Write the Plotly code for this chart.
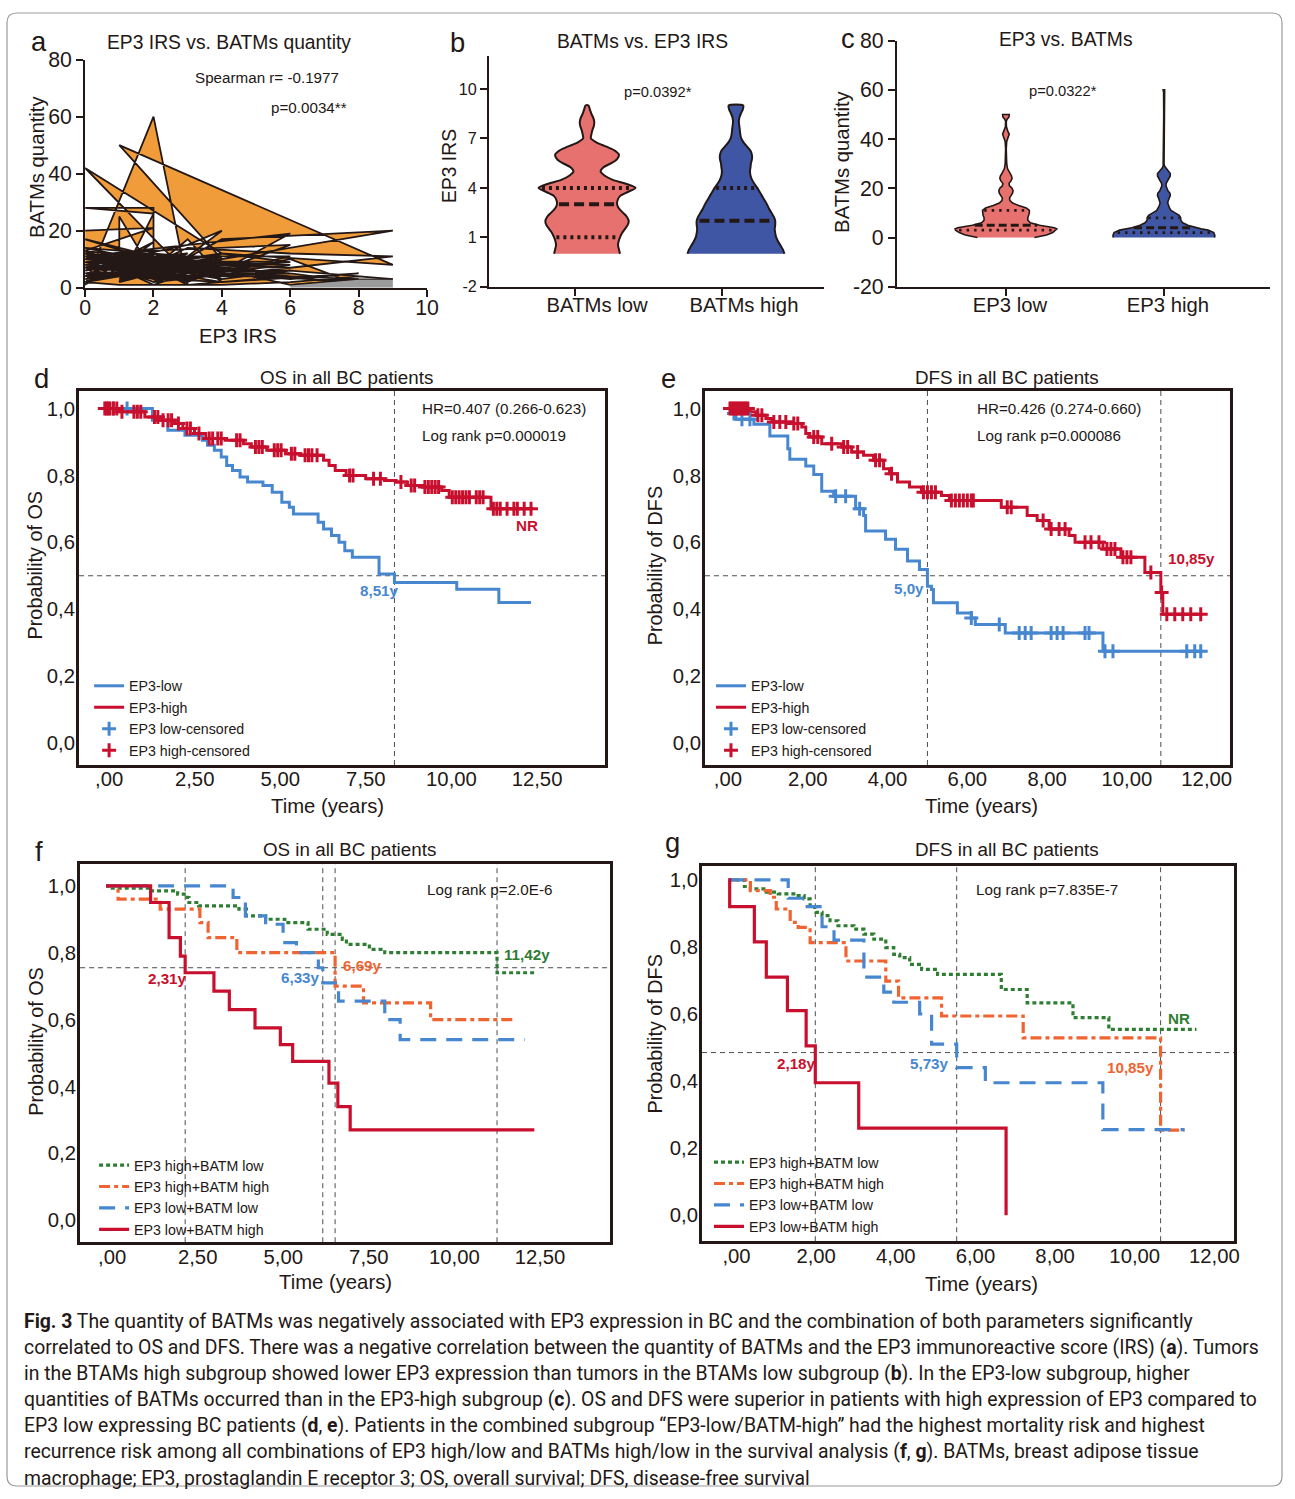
import numpy as np
import plotly.graph_objects as go

W, H = 1295, 1499
INK = "#231815"
FONT = "Liberation Sans, Arial, sans-serif"
CAP_FONT = "Roboto, Liberation Sans, sans-serif"
ORANGE = "#F09C3A"
PINK = "#E6716E"
NAVY = "#3E56A3"
KBLUE = "#4787CF"
KRED = "#C8102E"
KGREEN = "#2E7D32"
KORANGE = "#F06432"

# ---------------- panel a data (EP3 IRS vs BATMs, in plotted order) ----------------
a_irs = [0, 2, 0, 1, 0, 2, 0, 1, 0, 3, 0, 4, 1, 2, 0, 3, 1, 2, 0, 2,
         2, 1, 1, 3, 0, 2, 4, 1, 0, 2, 3, 2, 3, 4, 6, 2, 0, 4, 1, 9,
         4, 6, 3, 0, 2, 4, 3, 0, 4, 2, 4, 9, 4, 3, 6, 2, 0, 6, 4, 1,
         3, 6, 9, 6, 2, 4, 3, 1, 3, 0, 4, 6, 8, 4, 2, 0, 3, 6, 8, 4,
         1, 3, 2, 6, 9, 8, 6, 4, 1, 0, 2, 0, 3, 1, 4, 2, 0, 3, 1, 2,
         3, 0, 4, 1, 6, 2, 0, 3, 1, 4, 2, 0, 6, 3, 1, 4, 0, 2, 6, 3,
         1, 4, 2, 0, 3, 6, 8, 4, 1, 2, 0, 4, 3, 1, 6, 2, 0, 3, 4, 1,
         2, 0, 6, 4, 3, 1, 8, 6, 2, 0, 3, 4, 1, 2, 0, 6, 4, 3, 1, 0]
a_batm = [20, 21, 13, 4, 2, 9, 6, 12, 10, 5, 42, 12, 7, 16, 4, 9, 2, 26, 28, 28,
          5, 25, 6, 12, 8, 12, 3, 9, 1, 60, 1, 7, 17, 4, 5, 9, 14, 10, 50, 8,
          12, 9, 6, 17, 11, 3, 10, 3, 8, 4, 17, 20, 10, 2, 15, 13, 11, 19, 6, 3,
          14, 12, 11, 7, 2, 20, 15, 10, 7, 9, 5, 3, 5, 2, 6, 5, 3, 10, 1, 7,
          8, 11, 3, 6, 3, 4, 2, 1, 1, 2, 8, 7, 4, 5, 9, 1, 12, 8, 11, 10,
          6, 12, 4, 10, 8, 3, 9, 12, 2, 11, 7, 4, 4, 1, 13, 6, 8, 11, 11, 3,
          6, 9, 2, 11, 9, 1, 3, 5, 12, 6, 3, 12, 5, 9, 7, 10, 6, 11, 2, 4,
          12, 10, 9, 8, 2, 7, 2, 5, 4, 13, 8, 10, 3, 9, 5, 6, 3, 10, 11, 7]
a_gray_irs = [6, 8, 9]
a_gray_batm = [1, 3, 3]
a_xticks = [0, 2, 4, 6, 8, 10]
a_yticks = [0, 20, 40, 60, 80]

# ---------------- panel b data (violin density profiles) ----------------
b_categories = ["BATMs low", "BATMs high"]
b_levels = [0, 0.25, 0.5, 0.75, 1, 1.25, 1.5, 1.75, 2, 2.25, 2.5, 2.75, 3, 3.25, 3.5, 3.75,
            4, 4.25, 4.5, 4.75, 5, 5.25, 5.5, 5.75, 6, 6.25, 6.5, 6.75, 7, 7.25, 7.5, 7.75,
            8, 8.25, 8.5, 8.75, 9]
b_low_width = [0.68, 0.66, 0.64, 0.65, 0.68, 0.72, 0.78, 0.84, 0.86, 0.82, 0.74, 0.66, 0.62,
               0.63, 0.68, 0.84, 1.0, 0.80, 0.52, 0.36, 0.28, 0.34, 0.50, 0.62, 0.66, 0.58,
               0.40, 0.20, 0.08, 0.09, 0.11, 0.14, 0.15, 0.13, 0.09, 0.06, 0.03]
b_high_width = [1.0, 0.97, 0.92, 0.87, 0.83, 0.81, 0.80, 0.81, 0.81, 0.78, 0.73, 0.68, 0.64,
                0.59, 0.54, 0.49, 0.44, 0.38, 0.33, 0.30, 0.29, 0.30, 0.31, 0.33, 0.33, 0.30,
                0.23, 0.16, 0.11, 0.09, 0.08, 0.07, 0.06, 0.07, 0.10, 0.14, 0.15]
b_low_quart = [1, 3, 4]
b_high_quart = [0, 2, 4]
b_yticks = [-2, 1, 4, 7, 10]
b_yticktext = ["-2", "1", "4", "7", "10"]

# ---------------- panel c data ----------------
c_categories = ["EP3 low", "EP3 high"]
c_low_levels = [0, 1, 2, 3, 3.5, 4, 5, 6, 7, 8, 9, 10, 11, 12, 13, 14, 15, 16, 17, 18, 19, 20,
                21, 22, 23, 24, 25, 26, 27, 28, 30, 33, 36, 39, 41, 42, 43, 45, 47, 48, 49, 50]
c_low_width = [0.56, 0.80, 0.92, 0.99, 1.0, 0.95, 0.66, 0.48, 0.43, 0.43, 0.45, 0.46, 0.46,
               0.40, 0.25, 0.13, 0.08, 0.07, 0.10, 0.13, 0.14, 0.12, 0.07, 0.06, 0.10, 0.12,
               0.11, 0.08, 0.05, 0.03, 0.015, 0.006, 0.006, 0.015, 0.05, 0.065, 0.04, 0.01,
               0.006, 0.02, 0.06, 0.065]
c_high_levels = [0, 1, 2, 3, 3.5, 4, 5, 6, 7, 8, 9, 10, 11, 12, 13, 14, 15, 16, 17, 18, 19, 20,
                 21, 22, 23, 24, 25, 26, 27, 28, 29, 30, 40, 50, 59, 60]
c_high_width = [1.0, 1.0, 0.98, 0.87, 0.73, 0.63, 0.47, 0.37, 0.33, 0.33, 0.30, 0.22, 0.14,
                0.11, 0.09, 0.075, 0.085, 0.105, 0.125, 0.12, 0.08, 0.06, 0.04, 0.045, 0.075,
                0.105, 0.125, 0.125, 0.085, 0.04, 0.015, 0.003, 0.003, 0.003, 0.006, 0.015]
c_low_quart = [3, 5, 11]
c_high_quart = [2, 4, 8]
c_yticks = [-20, 0, 20, 40, 60, 80]
c_yticktext = ["-20", "0", "20", "40", "60", "80"]

# ---------------- Kaplan-Meier data ----------------
os_ticks = [0, 2.5, 5, 7.5, 10, 12.5]
os_ticktext = [",00", "2,50", "5,00", "7,50", "10,00", "12,50"]
dfs_ticks = [0, 2, 4, 6, 8, 10, 12]
dfs_ticktext = [",00", "2,00", "4,00", "6,00", "8,00", "10,00", "12,00"]
surv_ticks = [0, 0.2, 0.4, 0.6, 0.8, 1.0]
surv_ticktext = ["0,0", "0,2", "0,4", "0,6", "0,8", "1,0"]

# d: OS, EP3 low / high
d_low_t = [1.44, 1.89, 2.39, 2.9, 3.05, 3.25, 3.45, 3.61, 3.78, 4.0, 4.22, 4.67, 4.94, 5.22,
           5.44, 5.56, 6.28, 6.44, 6.67, 6.89, 7.06, 7.28, 8.06, 8.51, 10.33, 11.56]
d_low_s = [0.965, 0.935, 0.92, 0.905, 0.89, 0.875, 0.855, 0.83, 0.815, 0.795, 0.78, 0.77, 0.75,
           0.72, 0.705, 0.685, 0.66, 0.64, 0.62, 0.60, 0.575, 0.555, 0.505, 0.48, 0.46, 0.42]
d_low_end = 12.5
d_low_cens = [0.3, 0.7]
d_high_t = [0.45, 1.22, 1.67, 2.1, 2.33, 2.67, 3.0, 3.56, 4.1, 4.33, 4.78, 5.33, 5.78, 6.44,
            6.6, 6.78, 7.1, 7.67, 8.22, 8.56, 8.89, 9.33, 9.89, 10.11, 11.33]
d_high_s = [0.99, 0.975, 0.965, 0.955, 0.94, 0.925, 0.91, 0.905, 0.895, 0.885, 0.875, 0.865,
            0.86, 0.845, 0.83, 0.815, 0.80, 0.79, 0.785, 0.78, 0.77, 0.765, 0.755, 0.735, 0.70]
d_high_end = 12.56
d_high_cens = [0.05, 0.1, 0.15, 0.2, 0.3, 0.4, 0.55, 0.9, 1.0, 1.1, 1.5, 1.6, 1.75, 1.9, 2.0,
               2.2, 2.45, 2.55, 2.8, 3.1, 3.2, 3.35, 3.45, 3.9, 4.0, 4.45, 4.55, 4.65, 5.0,
               5.1, 5.2, 5.5, 5.6, 5.9, 6.0, 6.1, 6.25, 7.2, 7.3, 7.9, 8.1, 8.7, 9.0, 9.1,
               9.4, 9.5, 9.6, 9.7, 9.8, 10.2, 10.3, 10.4, 10.5, 10.6, 10.7, 10.9, 11.0, 11.1,
               11.4, 11.5, 11.6, 11.8, 12.0, 12.1, 12.3, 12.5]
d_vlines = [8.51]
d_hline = 0.5

# e: DFS, EP3 low / high
e_low_t = [0.1, 0.2, 0.65, 1.05, 1.5, 1.55, 1.95, 2.15, 2.35, 2.65, 3.2, 3.4, 3.45, 3.95, 4.2,
           4.5, 4.8, 5.0, 5.1, 5.15, 5.75, 6.1, 6.2, 6.95, 9.4]
e_low_s = [0.985, 0.968, 0.953, 0.918, 0.88, 0.848, 0.828, 0.803, 0.753, 0.738, 0.70, 0.68,
           0.634, 0.609, 0.579, 0.544, 0.519, 0.469, 0.459, 0.419, 0.389, 0.374, 0.354, 0.329,
           0.274]
e_low_end = 11.9
e_low_cens = [0.15, 0.35, 0.55, 2.7, 2.95, 3.3, 6.1, 6.8, 7.3, 7.45, 7.6, 8.1, 8.25, 8.4, 8.95,
              9.05, 9.45, 9.65, 11.5, 11.7, 11.85]
e_high_t = [0.55, 0.7, 0.95, 1.1, 1.6, 1.85, 1.95, 2.05, 2.35, 2.85, 3.1, 3.4, 3.65, 3.9, 4.05,
            4.25, 4.55, 4.85, 5.35, 5.55, 6.85, 7.5, 7.75, 8.05, 8.55, 8.7, 9.4, 9.85, 10.45,
            10.85, 10.9]
e_high_s = [0.99, 0.98, 0.97, 0.96, 0.955, 0.945, 0.925, 0.915, 0.895, 0.885, 0.87, 0.86, 0.845,
            0.82, 0.805, 0.78, 0.765, 0.75, 0.74, 0.725, 0.705, 0.68, 0.665, 0.64, 0.62, 0.60,
            0.58, 0.555, 0.51, 0.45, 0.385]
e_high_end = 11.9
e_high_cens = [0.05, 0.1, 0.15, 0.2, 0.25, 0.3, 0.35, 0.4, 0.45, 0.5, 0.75, 0.85, 1.15, 1.3,
               1.45, 1.65, 1.75, 2.15, 2.25, 2.6, 2.9, 3.0, 3.25, 3.7, 3.8, 4.1, 4.9, 5.0, 5.1,
               5.2, 5.6, 5.7, 5.8, 5.9, 6.0, 6.1, 6.15, 7.0, 7.1, 7.9, 8.1, 8.3, 8.45, 8.95,
               9.1, 9.3, 9.5, 9.6, 9.7, 9.9, 10.0, 10.1, 10.6, 10.87, 11.0, 11.2, 11.4, 11.6,
               11.85]
e_vlines = [5.0, 10.85]
e_hline = 0.5

# f: OS by EP3/BATM combination
f_names = ["EP3 high+BATM low", "EP3 high+BATM high", "EP3 low+BATM low", "EP3 low+BATM high"]
f_t = [
    [0.05, 1.3, 2.09, 2.37, 2.42, 2.7, 3.88, 4.1, 4.66, 5.22, 5.9, 6.46, 6.9, 7.02, 7.69, 8.14, 11.42],
    [0.35, 1.58, 2.74, 2.98, 3.82, 6.69, 7.52, 9.48],
    [3.71, 4.07, 4.66, 5.17, 5.56, 6.2, 6.33, 6.79, 8.14, 8.59],
    [1.3, 1.84, 2.17, 2.31, 3.15, 3.6, 4.35, 5.09, 5.45, 6.51, 6.77, 7.13],
]
f_s = [
    [0.993, 0.985, 0.975, 0.965, 0.95, 0.94, 0.93, 0.91, 0.90, 0.89, 0.87, 0.855, 0.84, 0.825, 0.81, 0.80, 0.74],
    [0.96, 0.93, 0.89, 0.845, 0.80, 0.70, 0.65, 0.60],
    [0.965, 0.91, 0.885, 0.83, 0.80, 0.755, 0.71, 0.655, 0.60, 0.54],
    [0.95, 0.845, 0.79, 0.74, 0.685, 0.63, 0.575, 0.525, 0.475, 0.41, 0.34, 0.27],
]
f_end = [12.57, 11.95, 12.23, 12.51]
f_vlines = [2.31, 6.33, 6.69, 11.42]
f_hline = 0.755

# g: DFS by EP3/BATM combination
g_t = [
    [0.4, 0.55, 0.95, 1.25, 1.75, 1.9, 2.05, 2.2, 2.35, 2.55, 2.75, 3.15, 3.4, 3.65, 3.95, 4.15,
     4.3, 4.55, 4.85, 5.25, 6.85, 7.5, 8.65, 9.55],
    [0.55, 1.05, 1.2, 1.55, 1.75, 2.05, 2.95, 3.95, 4.27, 5.35, 7.4, 10.85],
    [1.5, 1.9, 2.35, 2.65, 3.4, 3.9, 4.15, 4.8, 5.1, 5.73, 6.45, 9.4],
    [0.03, 0.65, 0.95, 1.48, 1.95, 2.18, 3.27, 6.97],
]
g_s = [
    [0.98, 0.973, 0.963, 0.958, 0.953, 0.943, 0.918, 0.903, 0.893, 0.878, 0.863, 0.853, 0.838,
     0.823, 0.798, 0.778, 0.768, 0.748, 0.733, 0.718, 0.673, 0.633, 0.589, 0.554],
    [0.968, 0.948, 0.913, 0.873, 0.858, 0.813, 0.758, 0.698, 0.648, 0.594, 0.529, 0.254],
    [0.945, 0.92, 0.86, 0.82, 0.71, 0.665, 0.635, 0.60, 0.51, 0.44, 0.395, 0.255],
    [0.92, 0.815, 0.71, 0.61, 0.505, 0.395, 0.26, 0.0],
]
g_end = [11.75, 11.45, 11.45, 6.97]
g_vlines = [2.18, 5.73, 10.85]
g_hline = 0.485

combo_colors = [KGREEN, KORANGE, KBLUE, KRED]
combo_dash = ["4px,3px", "11px,4px,4px,4px", "16px,10px", "solid"]

# ---------------- layout helpers (target-pixel -> figure-pixel) ----------------
SX, SY = 1313 / 1295, 1521 / 1499
OX, OY = 9, 11
FS = 1.014

def X(r):
    return r * SX - OX

def Y(r):
    return r * SY - OY

def xd(p0, p1):
    return [X(p0) / W, X(p1) / W]

def yd(top, bottom):
    return [1 - Y(bottom) / H, 1 - Y(top) / H]

def PX(x):
    return X(x) / W

def PY(y):
    return 1 - Y(y) / H

def fs(s):
    return round(s * FS, 1)

annotations = []
shapes = []

def ann(text, x, y, size, color=INK, xanchor="center", yanchor="middle", angle=0, family=FONT):
    annotations.append(dict(text=text, x=PX(x), y=PY(y), xref="paper", yref="paper",
                            xanchor=xanchor, yanchor=yanchor, showarrow=False, textangle=angle,
                            font=dict(size=fs(size), color=color, family=family)))

def km_xy(t, s, end):
    return [0.0] + list(t) + [end], [1.0] + list(s) + [s[-1]]

def surv_at(t, s, ct):
    times = np.array([0.0] + list(t))
    surv = np.array([1.0] + list(s))
    idx = np.searchsorted(times, np.array(ct), side="right") - 1
    return surv[idx]

fig = go.Figure()

# ---------------- panel a ----------------
fig.add_trace(go.Scatter(x=a_irs, y=a_batm, mode="lines", fill="tozeroy", fillcolor=ORANGE,
                         line=dict(color=INK, width=1.8), xaxis="x", yaxis="y",
                         showlegend=False, hoverinfo="skip"))
fig.add_trace(go.Scatter(x=a_gray_irs, y=a_gray_batm, mode="lines", fill="tozeroy",
                         fillcolor="#9b9b9b", line=dict(color=INK, width=1.2), xaxis="x",
                         yaxis="y", showlegend=False, hoverinfo="skip"))

# ---------------- violins ----------------
def violin(center, levels, widths, hm, color, xa, ya, shape, lw):
    lv = np.array(levels, dtype=float)
    wv = np.array(widths, dtype=float) * hm
    xs = np.concatenate([center + wv, (center - wv)[::-1]])
    ys = np.concatenate([lv, lv[::-1]])
    fig.add_trace(go.Scatter(x=xs, y=ys, mode="lines", fill="toself", fillcolor=color,
                             line=dict(color=INK, width=lw, shape=shape, smoothing=0.8),
                             xaxis=xa, yaxis=ya, showlegend=False, hoverinfo="skip"))

def qlines(center, levels, widths, hm, qs, xa, ya, lw_dot, lw_dash, dotpat, dashpat):
    for i, q in enumerate(qs):
        if q <= levels[0]:
            continue  # coincides with the violin's flat base
        w = float(np.interp(q, levels, widths)) * hm * 0.93
        med = (i == 1)
        fig.add_trace(go.Scatter(x=[center - w, center + w], y=[q, q], mode="lines",
                                 line=dict(color=INK, width=lw_dash if med else lw_dot,
                                           dash=dashpat if med else dotpat),
                                 xaxis=xa, yaxis=ya, showlegend=False, hoverinfo="skip"))

b_hm = 0.3255
violin(0, b_levels, b_low_width, b_hm, PINK, "x2", "y2", "spline", 2)
violin(1, b_levels, b_high_width, b_hm, NAVY, "x2", "y2", "spline", 2)
qlines(0, b_levels, b_low_width, b_hm, b_low_quart, "x2", "y2", 4, 4, "3px,4px", "10px,5px")
qlines(1, b_levels, b_high_width, b_hm, b_high_quart, "x2", "y2", 4, 4, "3px,4px", "10px,5px")

c_hm = 0.322
violin(0, c_low_levels, c_low_width, c_hm, PINK, "x3", "y3", "linear", 1.6)
violin(1, c_high_levels, c_high_width, c_hm, NAVY, "x3", "y3", "linear", 1.6)
qlines(0, c_low_levels, c_low_width, c_hm, c_low_quart, "x3", "y3", 2.8, 3, "2.5px,5px", "8px,4px")
qlines(1, c_high_levels, c_high_width, c_hm, c_high_quart, "x3", "y3", 2.8, 3, "2.5px,5px", "8px,4px")

# ---------------- KM d / e ----------------
def two_group(xa, ya, leg, lt, ls, lend, lc, ht, hs, hend, hc):
    x, y = km_xy(lt, ls, lend)
    fig.add_trace(go.Scatter(x=x, y=y, mode="lines", line=dict(color=KBLUE, width=3, shape="hv"),
                             name="EP3-low", legend=leg, xaxis=xa, yaxis=ya, hoverinfo="skip"))
    x, y = km_xy(ht, hs, hend)
    fig.add_trace(go.Scatter(x=x, y=y, mode="lines", line=dict(color=KRED, width=3, shape="hv"),
                             name="EP3-high", legend=leg, xaxis=xa, yaxis=ya, hoverinfo="skip"))
    fig.add_trace(go.Scatter(x=lc, y=surv_at(lt, ls, lc), mode="markers",
                             marker=dict(symbol="cross-thin", size=10, color=KBLUE,
                                         line=dict(color=KBLUE, width=3)),
                             name="EP3 low-censored", legend=leg, xaxis=xa, yaxis=ya,
                             hoverinfo="skip"))
    fig.add_trace(go.Scatter(x=hc, y=surv_at(ht, hs, hc), mode="markers",
                             marker=dict(symbol="cross-thin", size=10, color=KRED,
                                         line=dict(color=KRED, width=3)),
                             name="EP3 high-censored", legend=leg, xaxis=xa, yaxis=ya,
                             hoverinfo="skip"))

two_group("x4", "y4", "legend", d_low_t, d_low_s, d_low_end, d_low_cens,
          d_high_t, d_high_s, d_high_end, d_high_cens)
two_group("x5", "y5", "legend2", e_low_t, e_low_s, e_low_end, e_low_cens,
          e_high_t, e_high_s, e_high_end, e_high_cens)

def four_group(xa, ya, leg, ts, ss, ends):
    for name, t, s, end, col, dash in zip(f_names, ts, ss, ends, combo_colors, combo_dash):
        x, y = km_xy(t, s, end)
        fig.add_trace(go.Scatter(x=x, y=y, mode="lines",
                                 line=dict(color=col, width=3.2, shape="hv", dash=dash),
                                 name=name, legend=leg, xaxis=xa, yaxis=ya, hoverinfo="skip"))

four_group("x6", "y6", "legend3", f_t, f_s, f_end)
four_group("x7", "y7", "legend4", g_t, g_s, g_end)

def ref_lines(n, vlines, hline):
    for v in vlines:
        shapes.append(dict(type="line", xref=f"x{n}", yref=f"y{n} domain", x0=v, x1=v, y0=0, y1=1,
                           line=dict(color="#4d4d4d", width=1, dash="5px,4px"), layer="below"))
    shapes.append(dict(type="line", xref=f"x{n} domain", yref=f"y{n}", x0=0, x1=1, y0=hline,
                       y1=hline, line=dict(color="#4d4d4d", width=1, dash="5px,4px"),
                       layer="below"))

ref_lines(4, d_vlines, d_hline)
ref_lines(5, e_vlines, e_hline)
ref_lines(6, f_vlines, f_hline)
ref_lines(7, g_vlines, g_hline)

# ---------------- axes ----------------
base_tick = dict(showgrid=False, zeroline=False, showline=True, linecolor=INK, color=INK)
tick_style = dict(linewidth=2, ticks="outside", ticklen=7, tickwidth=2, tickcolor=INK)

layout_axes = {}
layout_axes["xaxis"] = dict(base_tick, **tick_style, domain=xd(88, 430), range=[0, 10],
                            anchor="y", tickvals=a_xticks, tickfont=dict(size=fs(21)),
                            ticklabelstandoff=-7)
layout_axes["yaxis"] = dict(base_tick, **tick_style, domain=yd(58.5, 287), range=[0, 80],
                            anchor="x", tickvals=a_yticks, tickfont=dict(size=fs(21)))
layout_axes["xaxis2"] = dict(base_tick, **tick_style, domain=xd(492, 827),
                             range=[-0.658, 1.591], anchor="y2", tickvals=[-0.08, 0.906],
                             ticktext=b_categories, ticklabelshift=22, ticklabelstandoff=-8,
                             tickfont=dict(size=fs(20)))
layout_axes["yaxis2"] = dict(base_tick, **tick_style, domain=yd(55, 286), range=[-2, 12],
                             anchor="x2", tickvals=b_yticks, ticktext=b_yticktext,
                             tickfont=dict(size=fs(16)))
layout_axes["xaxis3"] = dict(base_tick, **tick_style, domain=xd(900, 1273),
                             range=[-0.69, 1.671], anchor="y3", tickvals=[0, 1],
                             ticktext=c_categories, ticklabelshift=4, ticklabelstandoff=-8,
                             tickfont=dict(size=fs(20)))
layout_axes["yaxis3"] = dict(base_tick, **tick_style, domain=yd(39.5, 286), range=[-20, 80],
                             anchor="x3", tickvals=c_yticks, ticktext=c_yticktext,
                             tickfont=dict(size=fs(21)))

def km_axes(n, xpx, ypx, xr, yr, tv, tt, shift):
    layout_axes[f"xaxis{n}"] = dict(base_tick, domain=xd(*xpx), range=xr, anchor=f"y{n}",
                                    mirror=True, linewidth=3, ticks="", tickvals=tv, ticktext=tt,
                                    ticklabelshift=shift, ticklabelstandoff=-6,
                                    tickfont=dict(size=fs(20)))
    layout_axes[f"yaxis{n}"] = dict(base_tick, domain=yd(*ypx), range=yr, anchor=f"x{n}",
                                    mirror=True, linewidth=3, ticks="", tickvals=surv_ticks,
                                    ticktext=surv_ticktext, ticklabelstandoff=-3,
                                    tickfont=dict(size=fs(20)))

km_axes(4, (82, 608), (390, 765), [-0.701, 14.661], [-0.0657, 1.0537], os_ticks, os_ticktext, 6)
km_axes(5, (708, 1233), (390, 765), [-0.576, 12.581], [-0.0657, 1.0537], dfs_ticks, dfs_ticktext, 0)
km_axes(6, (83, 613), (864, 1243), [-0.759, 14.72], [-0.0657, 1.0657], os_ticks, os_ticktext, 6)
km_axes(7, (705, 1237), (866, 1242), [-0.665, 12.69], [-0.0774, 1.0417], dfs_ticks, dfs_ticktext, 8)

# ---------------- text ----------------
for letter, x, y in [("a", 42, 40), ("b", 460, 41), ("c", 851, 37), ("d", 44, 378),
                     ("e", 672, 378), ("f", 42, 852), ("g", 676, 843)]:
    ann(letter, x, y, 27)

ann("EP3 IRS vs. BATMs quantity", 232, 41, 19)
ann("BATMs vs. EP3 IRS", 645, 40, 19)
ann("EP3 vs. BATMs", 1069, 38, 19)
ann("OS in all BC patients", 349, 377, 18.5)
ann("DFS in all BC patients", 1010, 377, 18.5)
ann("OS in all BC patients", 352, 850, 18.5)
ann("DFS in all BC patients", 1010, 850, 18.5)

ann("BATMs quantity", 40, 166, 20, angle=-90)
ann("EP3 IRS", 241, 335, 20)
ann("EP3 IRS", 453, 165, 19, angle=-90)
ann("BATMs quantity", 845, 160, 20, angle=-90)
ann("Probability of OS", 38, 565, 19.5, angle=-90)
ann("Probability of DFS", 658, 565, 19.5, angle=-90)
ann("Probability of OS", 38, 1042, 19.5, angle=-90)
ann("Probability of DFS", 658, 1034, 19.5, angle=-90)
ann("Time (years)", 330, 806, 20)
ann("Time (years)", 985, 806, 20)
ann("Time (years)", 338, 1283, 20)
ann("Time (years)", 985, 1285, 20)

ann("Spearman r= -0.1977", 270, 76, 15)
ann("p=0.0034**", 312, 106, 15)
ann("p=0.0392*", 661, 91, 14.5)
ann("p=0.0322*", 1066, 90, 14.5)
ann("HR=0.407 (0.266-0.623)", 507, 408, 15)
ann("Log rank p=0.000019", 497, 435, 15)
ann("<b>NR</b>", 530, 525, 15, KRED)
ann("<b>8,51y</b>", 382, 590, 15, KBLUE)
ann("HR=0.426 (0.274-0.660)", 1062, 408, 15)
ann("Log rank p=0.000086", 1052, 435, 15)
ann("<b>10,85y</b>", 1195, 558, 15, KRED)
ann("<b>5,0y</b>", 912, 588, 15, KBLUE)
ann("Log rank p=2.0E-6", 492, 890, 15)
ann("<b>2,31y</b>", 170, 979, 15, KRED)
ann("<b>6,33y</b>", 303, 978, 15, KBLUE)
ann("<b>6,69y</b>", 365, 966, 15, KORANGE)
ann("<b>11,42y</b>", 530, 955, 15, KGREEN)
ann("Log rank p=7.835E-7", 1050, 890, 15)
ann("<b>NR</b>", 1182, 1019, 15, KGREEN)
ann("<b>2,18y</b>", 800, 1064, 15, KRED)
ann("<b>5,73y</b>", 933, 1064, 15, KBLUE)
ann("<b>10,85y</b>", 1134, 1068, 15, KORANGE)

caption = [
    "<b>Fig. 3</b> The quantity of BATMs was negatively associated with EP3 expression in BC and the combination of both parameters significantly",
    "correlated to OS and DFS. There was a negative correlation between the quantity of BATMs and the EP3 immunoreactive score (IRS) (<b>a</b>). Tumors",
    "in the BTAMs high subgroup showed lower EP3 expression than tumors in the BTAMs low subgroup (<b>b</b>). In the EP3-low subgroup, higher",
    "quantities of BATMs occurred than in the EP3-high subgroup (<b>c</b>). OS and DFS were superior in patients with high expression of EP3 compared to",
    "EP3 low expressing BC patients (<b>d</b>, <b>e</b>). Patients in the combined subgroup \u201cEP3-low/BATM-high\u201d had the highest mortality risk and highest",
    "recurrence risk among all combinations of EP3 high/low and BATMs high/low in the survival analysis (<b>f</b>, <b>g</b>). BATMs, breast adipose tissue",
    "macrophage; EP3, prostaglandin E receptor 3; OS, overall survival; DFS, disease-free survival",
]
for i, line in enumerate(caption):
    ann(line, 25, 1322 + i * 26.2, 19.1, xanchor="left", family=CAP_FONT)

# rounded border (kept inside the figure)
x0, x1 = 1 / W, 1294 / W
y0, y1 = 1 / H, 1 - 1 / H
rx, ry = 10 / W, 10 / H
path = (f"M {x0+rx},{y1} L {x1-rx},{y1} Q {x1},{y1} {x1},{y1-ry} L {x1},{y0+ry} "
        f"Q {x1},{y0} {x1-rx},{y0} L {x0+rx},{y0} Q {x0},{y0} {x0},{y0+ry} "
        f"L {x0},{y1-ry} Q {x0},{y1} {x0+rx},{y1} Z")
shapes.append(dict(type="path", xref="paper", yref="paper", path=path,
                   line=dict(color="#9a9a9a", width=1.2)))

leg_common = dict(bgcolor="rgba(0,0,0,0)", font=dict(size=fs(14), family=FONT, color=INK),
                  xanchor="left", yanchor="middle", tracegroupgap=0, itemwidth=30,
                  traceorder="normal")

fig.update_layout(
    width=W, height=H, margin=dict(l=0, r=0, t=0, b=0),
    paper_bgcolor="white", plot_bgcolor="white",
    font=dict(family=FONT, color=INK),
    showlegend=True,
    legend=dict(leg_common, x=PX(92), y=PY(718)),
    legend2=dict(leg_common, x=PX(714), y=PY(718)),
    legend3=dict(leg_common, x=PX(97), y=PY(1198)),
    legend4=dict(leg_common, x=PX(712), y=PY(1195)),
    annotations=annotations, shapes=shapes,
    **layout_axes,
)

page_js = ("var s=document.createElement('style');"
           "s.innerHTML='html,body{margin:0;padding:0;overflow:hidden;} .js-fill{fill-rule:evenodd;}';"
           "document.head.appendChild(s);")
fig.write_html("out.html", post_script=page_js, config={"displayModeBar": False})
